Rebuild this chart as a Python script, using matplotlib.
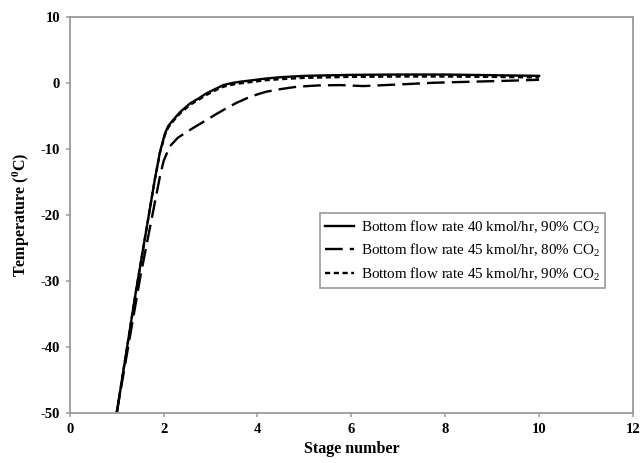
import matplotlib
matplotlib.use("Agg")
import matplotlib.pyplot as plt

# Data
x_s1 = [1.0, 1.4, 1.81, 1.92, 2.03, 2.1, 2.2, 2.35, 2.56, 2.75, 2.91, 3.1, 3.27, 3.45, 3.62,
        4.19, 4.5, 5, 6, 7, 8, 9, 10]
t_s1 = [-50, -32, -14.7, -10.5, -7.6, -6.5, -5.6, -4.4, -3.1, -2.3, -1.56, -0.9, -0.3, 0.0, 0.2,
        0.7, 0.9, 1.1, 1.25, 1.3, 1.3, 1.2, 1.1]

x_s3 = [1.0, 1.4, 1.81, 1.92, 2.03, 2.1, 2.2, 2.35, 2.56, 2.75, 2.91, 3.1, 3.27, 3.45, 3.62,
        4.19, 4.5, 5, 6, 7, 8, 9, 10]
t_s3 = [-50, -32, -14.7, -10.6, -7.8, -6.7, -5.8, -4.6, -3.3, -2.5, -1.8, -1.1, -0.55, -0.25, -0.05,
        0.45, 0.6, 0.8, 0.95, 1.0, 1.0, 0.95, 0.85]

x_s2 = [1.0, 1.5, 1.92, 2.0, 2.13, 2.3, 2.49, 2.7, 2.91, 3.12, 3.34, 3.55, 3.77, 4.0, 4.19,
        4.5, 4.84, 5.3, 5.76, 6.25, 7.18, 7.74, 8.5, 9.3, 10]
t_s2 = [-50, -29.5, -14.2, -11.8, -9.6, -8.3, -7.4, -6.5, -5.6, -4.7, -3.8, -3.0, -2.3, -1.7, -1.3,
        -0.9, -0.55, -0.35, -0.3, -0.45, -0.15, 0.05, 0.2, 0.35, 0.5]

labels = ["Bottom flow rate 40 kmol/hr, 90% CO$_2$",
          "Bottom flow rate 45 kmol/hr, 80% CO$_2$",
          "Bottom flow rate 45 kmol/hr, 90% CO$_2$"]

x_ticks = [0, 2, 4, 6, 8, 10, 12]
y_ticks = [-50, -40, -30, -20, -10, 0, 10]

plt.rcParams['font.family'] = ['Liberation Serif', 'DejaVu Serif']
plt.rcParams['mathtext.fontset'] = 'custom'
plt.rcParams['mathtext.rm'] = 'Liberation Serif'
plt.rcParams['mathtext.bf'] = 'Liberation Serif:bold'
plt.rcParams['axes.unicode_minus'] = False

fig = plt.figure(figsize=(6.4, 4.63), dpi=100)
ax = fig.add_axes([0.109, 0.108, 0.88, 0.855])

lw = 1.7
ax.plot(x_s1, t_s1, color='black', lw=lw, linestyle='-', label=labels[0])
ax.plot(x_s2, t_s2, color='black', lw=lw, linestyle=(0, (7.5, 3)), label=labels[1])
ax.plot(x_s3, t_s3, color='black', lw=lw, linestyle=(0, (2.2, 1.5)), label=labels[2])

ax.set_xlim(0, 12)
ax.set_ylim(-50, 10)
ax.set_xticks(x_ticks)
ax.set_yticks(y_ticks)

gray = '#9a9a9a'
for sp in ax.spines.values():
    sp.set_color(gray)
    sp.set_linewidth(1.3)
ax.tick_params(direction='out', length=3, width=1.1, color=gray, labelsize=10.5, pad=4)
for t in ax.get_xticklabels() + ax.get_yticklabels():
    t.set_fontweight('bold')

ax.set_xlabel('Stage number', fontsize=11.5, fontweight='bold', labelpad=4)
ax.set_ylabel(r'Temperature ($\mathbf{^{0}}$C)', fontsize=11.5, fontweight='bold', labelpad=6)

leg = ax.legend(loc='upper right', bbox_to_anchor=(0.951, 0.505), fontsize=10.8,
                fancybox=False, edgecolor=gray, framealpha=1, handlelength=1.9,
                borderpad=0.35, labelspacing=0.38, handletextpad=0.5, borderaxespad=0)
leg.get_frame().set_linewidth(1.2)

fig.savefig('out.png', dpi=100)
